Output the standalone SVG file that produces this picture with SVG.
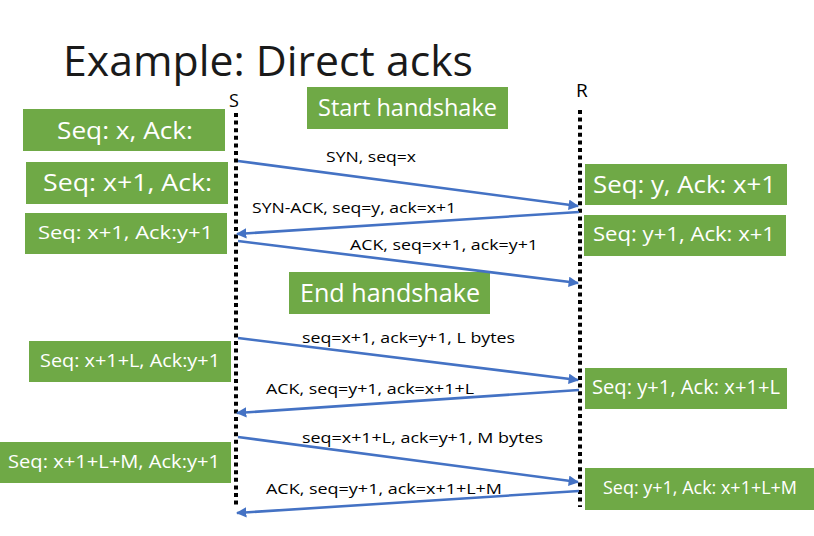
<svg xmlns="http://www.w3.org/2000/svg" width="814" height="536" viewBox="0 0 814 536">
  <style>
    .box { fill: #6FA946; }
    .bt { fill: #ffffff; font-family: "Open Sans", "Liberation Sans", sans-serif; }
    .lbl { fill: #000000; font-family: "Open Sans", "Liberation Sans", sans-serif; font-size: 14px; }
    .life { stroke: #000000; stroke-width: 4; stroke-dasharray: 4 3.6; fill: none; }
    .msg { stroke: #4472C4; stroke-width: 2.6; fill: none; marker-end: url(#head); }
  </style>
  <defs>
    <marker id="head" viewBox="0 0 10 10" refX="9" refY="5" markerWidth="4" markerHeight="4" orient="auto" markerUnits="strokeWidth">
      <path d="M0,0 L10,5 L0,10 z" fill="#4472C4"/>
    </marker>
  </defs>
  <rect width="814" height="536" fill="#ffffff"/>

  <!-- title -->
  <text x="63" y="76" font-family="Open Sans, Liberation Sans, sans-serif" font-size="42" fill="#1a1a1a" textLength="410" lengthAdjust="spacingAndGlyphs">Example: Direct acks</text>

  <!-- lifelines -->
  <g id="lifeline-S">
    <text x="229" y="107" font-family="Open Sans, Liberation Sans, sans-serif" font-size="18" fill="#000">S</text>
    <line class="life" x1="236" y1="113" x2="236" y2="505"/>
  </g>
  <g id="lifeline-R">
    <text x="576" y="97" font-family="Open Sans, Liberation Sans, sans-serif" font-size="19" fill="#000">R</text>
    <line class="life" x1="580" y1="110" x2="580" y2="507"/>
  </g>

  <!-- sender state boxes -->
  <g id="s1">
    <rect class="box" x="23" y="109" width="202" height="42"/>
    <text class="bt" x="57" y="139" font-size="24" textLength="136" lengthAdjust="spacingAndGlyphs">Seq: x, Ack:</text>
  </g>
  <g id="s2">
    <rect class="box" x="26" y="162" width="202" height="42"/>
    <text class="bt" x="43" y="191" font-size="24" textLength="169" lengthAdjust="spacingAndGlyphs">Seq: x+1, Ack:</text>
  </g>
  <g id="s3">
    <rect class="box" x="25" y="213" width="202" height="41"/>
    <text class="bt" x="38" y="239" font-size="19" textLength="175" lengthAdjust="spacingAndGlyphs">Seq: x+1, Ack:y+1</text>
  </g>
  <g id="s4">
    <rect class="box" x="29" y="341" width="202" height="41"/>
    <text class="bt" x="40" y="367" font-size="19" textLength="180" lengthAdjust="spacingAndGlyphs">Seq: x+1+L, Ack:y+1</text>
  </g>
  <g id="s5">
    <rect class="box" x="0" y="442" width="231" height="41"/>
    <text class="bt" x="8" y="468" font-size="19" textLength="212" lengthAdjust="spacingAndGlyphs">Seq: x+1+L+M, Ack:y+1</text>
  </g>

  <!-- receiver state boxes -->
  <g id="r1">
    <rect class="box" x="585" y="164" width="202" height="41"/>
    <text class="bt" x="593" y="193" font-size="23" textLength="183" lengthAdjust="spacingAndGlyphs">Seq: y, Ack: x+1</text>
  </g>
  <g id="r2">
    <rect class="box" x="584" y="215" width="202" height="41"/>
    <text class="bt" x="593" y="241" font-size="20" textLength="182" lengthAdjust="spacingAndGlyphs">Seq: y+1, Ack: x+1</text>
  </g>
  <g id="r3">
    <rect class="box" x="585" y="368" width="202" height="41"/>
    <text class="bt" x="592" y="394" font-size="20" textLength="188" lengthAdjust="spacingAndGlyphs">Seq: y+1, Ack: x+1+L</text>
  </g>
  <g id="r4">
    <rect class="box" x="585" y="468" width="229" height="42"/>
    <text class="bt" x="603" y="494" font-size="18" textLength="194" lengthAdjust="spacingAndGlyphs">Seq: y+1, Ack: x+1+L+M</text>
  </g>

  <!-- handshake markers -->
  <g id="start-handshake">
    <rect class="box" x="307" y="87" width="201" height="42"/>
    <text class="bt" x="318" y="116" font-size="23" textLength="179" lengthAdjust="spacingAndGlyphs">Start handshake</text>
  </g>
  <g id="end-handshake">
    <rect class="box" x="289" y="272" width="201" height="42"/>
    <text class="bt" x="300" y="302" font-size="25" textLength="180" lengthAdjust="spacingAndGlyphs">End handshake</text>
  </g>

  <!-- messages -->
  <g id="connectors">
    <line class="msg" x1="238" y1="161" x2="578" y2="206"/>
    <line class="msg" x1="579" y1="212" x2="237" y2="234"/>
    <line class="msg" x1="238" y1="241" x2="578" y2="283"/>
    <line class="msg" x1="238" y1="338" x2="578" y2="380"/>
    <line class="msg" x1="579" y1="390" x2="237" y2="413"/>
    <line class="msg" x1="238" y1="437" x2="578" y2="482"/>
    <line class="msg" x1="579" y1="491" x2="237" y2="513"/>

    <text class="lbl" x="326" y="162" textLength="90" lengthAdjust="spacingAndGlyphs">SYN, seq=x</text>
    <text class="lbl" x="252" y="213" textLength="204" lengthAdjust="spacingAndGlyphs">SYN-ACK, seq=y, ack=x+1</text>
    <text class="lbl" x="350" y="250" textLength="188" lengthAdjust="spacingAndGlyphs">ACK, seq=x+1, ack=y+1</text>
    <text class="lbl" x="302" y="343" textLength="213" lengthAdjust="spacingAndGlyphs">seq=x+1, ack=y+1, L bytes</text>
    <text class="lbl" x="266" y="394" textLength="208" lengthAdjust="spacingAndGlyphs">ACK, seq=y+1, ack=x+1+L</text>
    <text class="lbl" x="302" y="443" textLength="241" lengthAdjust="spacingAndGlyphs">seq=x+1+L, ack=y+1, M bytes</text>
    <text class="lbl" x="266" y="494" textLength="236" lengthAdjust="spacingAndGlyphs">ACK, seq=y+1, ack=x+1+L+M</text>
  </g>
</svg>
